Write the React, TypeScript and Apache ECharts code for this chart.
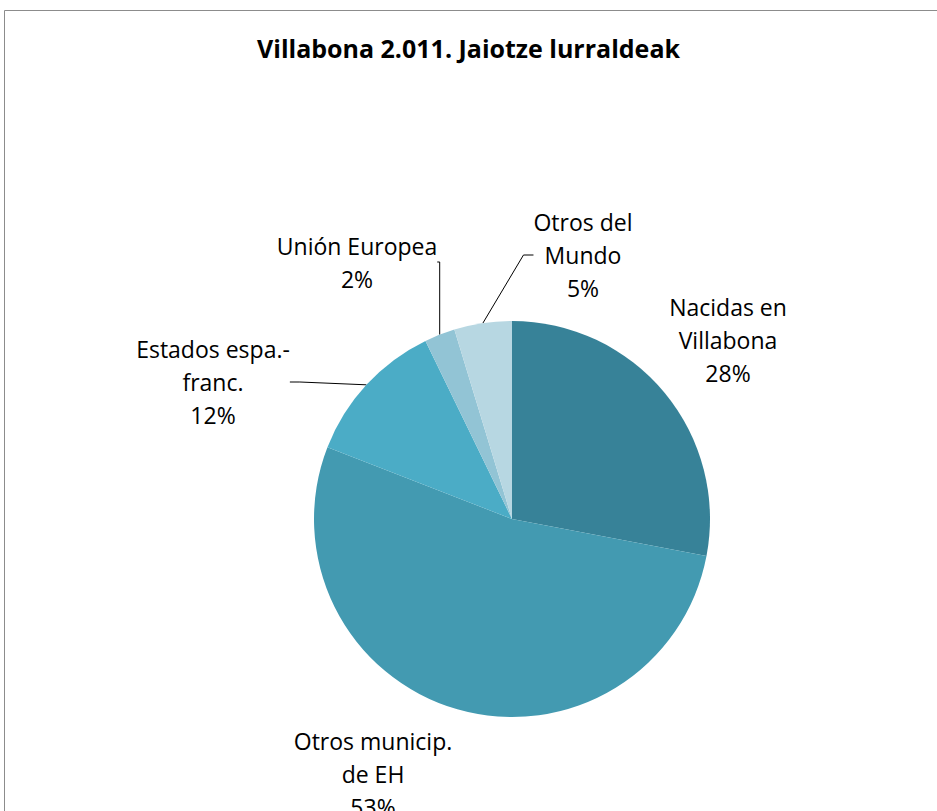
import React, { useEffect, useRef } from "react";
import * as echarts from "echarts";

const titleText = "Villabona 2.011. Jaiotze lurraldeak";
const categories = [
  "Nacidas en\nVillabona",
  "Otros municip.\nde EH",
  "Estados espa.-\nfranc.",
  "Unión Europea",
  "Otros del\nMundo",
];
const values = [28.0, 52.9, 11.9, 2.5, 4.7];
const percentLabels = ["28%", "53%", "12%", "2%", "5%"];
const colors = ["#378298", "#439AB1", "#4BACC6", "#92C4D5", "#B7D7E2"];

// label anchor positions (centers)
const labelPos = [
  { x: 728, y: 340 },
  { x: 373, y: 774 },
  { x: 213, y: 382 },
  { x: 357, y: 262 },
  { x: 583, y: 255 },
];
const showLine = [false, false, true, true, true];

export default function App() {
  const ref = useRef<HTMLDivElement>(null);
  useEffect(() => {
    if (!ref.current) return;
    const chart = echarts.init(ref.current, undefined, { renderer: "svg" });
    const font = "'Open Sans', Lato, sans-serif";
    chart.setOption({
      animation: false,
      backgroundColor: "#ffffff",
      title: {
        text: titleText,
        left: "center",
        top: 30,
        textStyle: {
          fontFamily: font,
          fontWeight: "bold",
          fontSize: 25,
          color: "#000000",
        },
      },
      graphic: [
        {
          type: "rect",
          shape: { x: 4.5, y: 10.5, width: 1000, height: 1000 },
          style: { fill: "none", stroke: "#8c8c8c", lineWidth: 1 },
          silent: true,
        },
      ],
      series: [
        {
          type: "pie",
          center: [512, 519],
          radius: 198,
          startAngle: 90,
          clockwise: true,
          data: values.map((v, i) => ({
            value: v,
            name: categories[i],
            itemStyle: { color: colors[i] },
            labelLine: { show: showLine[i] },
          })),
          label: {
            show: true,
            position: "outside",
            formatter: (p: any) => `${p.name}\n${percentLabels[p.dataIndex]}`,
            fontFamily: font,
            fontSize: 23,
            lineHeight: 33,
            color: "#000000",
            align: "center",
          },
          labelLine: {
            show: true,
            lineStyle: { color: "#000000", width: 1 },
            length: 10,
            length2: 10,
          },
          labelLayout: (p: any) => {
            const pos = labelPos[p.dataIndex];
            return {
              x: pos.x,
              y: pos.y,
              align: "center",
              verticalAlign: "middle",
            };
          },
          emphasis: { disabled: true },
        },
      ],
    });
    return () => chart.dispose();
  }, []);
  return (
    <div
      ref={ref}
      style={{ position: "fixed", left: 0, top: 0, width: 937, height: 811 }}
    />
  );
}
